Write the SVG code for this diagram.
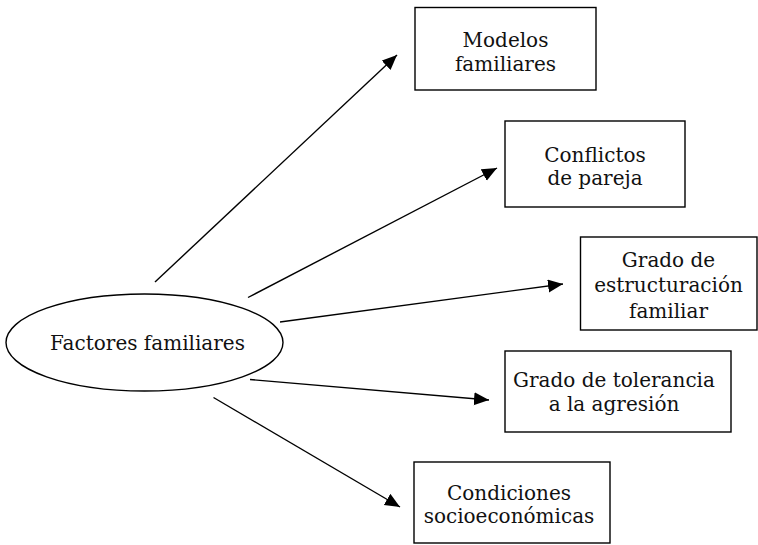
<svg xmlns="http://www.w3.org/2000/svg" width="758" height="545" viewBox="0 0 758 545">
<style>
  .box { fill: #ffffff; stroke: #000000; stroke-width: 1.4; }
  .lbl { font-family: "DejaVu Serif", "Liberation Serif", serif; font-size: 20px; fill: #111111; text-anchor: middle; }
  .conn { stroke: #000000; stroke-width: 1.4; fill: none; marker-end: url(#arrow); }
</style>
<defs>
  <marker id="arrow" markerUnits="userSpaceOnUse" markerWidth="16" markerHeight="14" refX="15" refY="6.5" orient="auto">
    <path d="M0,0 L15,6.5 L0,13 z" fill="#000000"/>
  </marker>
</defs>
<rect width="758" height="545" fill="#ffffff"/>
<g id="connectors">
  <line class="conn" x1="155" y1="282" x2="397" y2="55"/>
  <line class="conn" x1="248" y1="297.5" x2="497" y2="168"/>
  <line class="conn" x1="280" y1="322" x2="563" y2="284"/>
  <line class="conn" x1="250" y1="379.5" x2="489" y2="400"/>
  <line class="conn" x1="213.5" y1="397.5" x2="400" y2="507"/>
</g>
<g id="factores">
  <ellipse class="box" cx="144.5" cy="342.5" rx="138.5" ry="48.5"/>
  <text class="lbl" x="147.5" y="349.5">Factores familiares</text>
</g>
<g id="modelos">
  <rect class="box" x="415" y="7.5" width="181" height="82.5"/>
  <text class="lbl" x="505.5" y="47">Modelos</text>
  <text class="lbl" x="505.5" y="71">familiares</text>
</g>
<g id="conflictos">
  <rect class="box" x="505" y="121" width="180" height="86"/>
  <text class="lbl" x="595" y="161.5">Conflictos</text>
  <text class="lbl" x="595" y="185">de pareja</text>
</g>
<g id="estructuracion">
  <rect class="box" x="580.5" y="237" width="176.5" height="93"/>
  <text class="lbl" x="668.5" y="266.5">Grado de</text>
  <text class="lbl" x="668.5" y="292">estructuración</text>
  <text class="lbl" x="668.5" y="317.5">familiar</text>
</g>
<g id="tolerancia">
  <rect class="box" x="505" y="351" width="226" height="81"/>
  <text class="lbl" x="614" y="387">Grado de tolerancia</text>
  <text class="lbl" x="614" y="410.5">a la agresión</text>
</g>
<g id="condiciones">
  <rect class="box" x="414" y="462" width="196" height="81"/>
  <text class="lbl" x="509" y="500">Condiciones</text>
  <text class="lbl" x="509" y="523">socioeconómicas</text>
</g>
</svg>
